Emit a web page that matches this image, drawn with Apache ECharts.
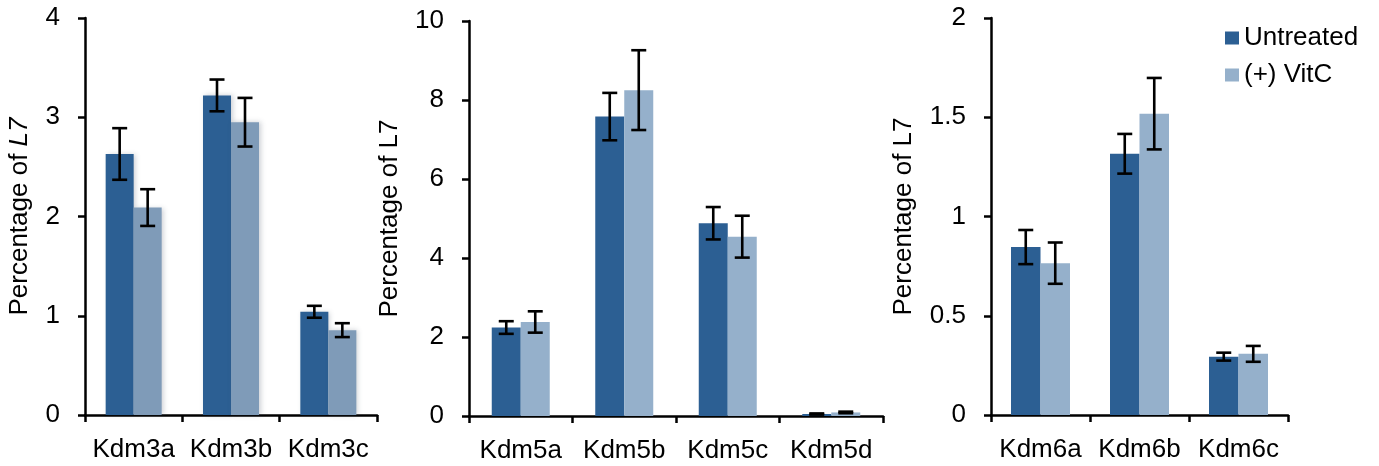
<!DOCTYPE html>
<html>
<head>
<meta charset="utf-8">
<script src="https://cdn.jsdelivr.net/npm/echarts@6/dist/echarts.min.js"></script>
<style>
html,body{margin:0;padding:0;background:#fff;}
#c{width:1379px;height:466px;}
</style>
</head>
<body>
<div id="c"></div>
<script>
// ---- data ----
const seriesNames = ['Untreated', '(+) VitC'];

const cats1 = ['Kdm3a', 'Kdm3b', 'Kdm3c'];
const untreated1 = [2.63, 3.22, 1.04];
const untreated1Err = [0.26, 0.16, 0.06];
const vitc1 = [2.09, 2.95, 0.855];
const vitc1Err = [0.185, 0.245, 0.07];

const cats2 = ['Kdm5a', 'Kdm5b', 'Kdm5c', 'Kdm5d'];
const untreated2 = [2.24, 7.58, 4.88, 0.05];
const untreated2Err = [0.16, 0.6, 0.41, 0.015];
const vitc2 = [2.38, 8.25, 4.54, 0.09];
const vitc2Err = [0.27, 1.01, 0.53, 0.02];

const cats3 = ['Kdm6a', 'Kdm6b', 'Kdm6c'];
const untreated3 = [0.846, 1.316, 0.294];
const untreated3Err = [0.086, 0.10, 0.02];
const vitc3 = [0.765, 1.518, 0.308];
const vitc3Err = [0.104, 0.18, 0.04];

const yTicks1 = {min: 0, max: 4, interval: 1};
const yTicks2 = {min: 0, max: 10, interval: 2};
const yTicks3 = {min: 0, max: 2, interval: 0.5};

// ---- styles ----
const FONT = 'Liberation Sans, Arial, Helvetica, sans-serif';
const FS = 26;
const DARK = '#2c5f93';
const LIGHT = '#95b0cb';
const LIGHT1 = '#7f9bb8';
const AX = {color: '#000', width: 2.5};

const panels = [
  {cats: cats1, u: untreated1, ue: untreated1Err, v: vitc1, ve: vitc1Err, y: yTicks1,
   grid: {left: 85, top: 18, width: 292, height: 397}, bw: 28, gap: 52,
   name: 'Percentage of {i|L7}', light: LIGHT1, shadow: true},
  {cats: cats2, u: untreated2, ue: untreated2Err, v: vitc2, ve: vitc2Err, y: yTicks2,
   grid: {left: 469, top: 21, width: 414, height: 395}, bw: 29, gap: 66,
   name: 'Percentage of L7', light: LIGHT, shadow: false},
  {cats: cats3, u: untreated3, ue: untreated3Err, v: vitc3, ve: vitc3Err, y: yTicks3,
   grid: {left: 991, top: 18, width: 297, height: 397}, bw: 29.5, gap: 74,
   name: 'Percentage of L7', light: LIGHT, shadow: false}
];

const grid = [], xAxis = [], yAxis = [], series = [];

function errSeries(idx, vals, errs, offsetSign, bw) {
  return {
    type: 'custom',
    xAxisIndex: idx, yAxisIndex: idx,
    z: 10, silent: true,
    encode: {x: 0, y: 1},
    data: vals.map((v, i) => [i, v, errs[i]]),
    renderItem: function (params, api) {
      const x = api.value(0), y = api.value(1), e = api.value(2);
      const c = api.coord([x, y]);
      const t = api.coord([x, y + e]);
      const b = api.coord([x, y - e]);
      const cx = c[0] + offsetSign * bw / 2;
      const hw = 7.5;
      const st = {stroke: '#000', lineWidth: 2.6};
      return {
        type: 'group',
        children: [
          {type: 'line', shape: {x1: cx, y1: t[1], x2: cx, y2: b[1]}, style: st},
          {type: 'line', shape: {x1: cx - hw, y1: t[1], x2: cx + hw, y2: t[1]}, style: st},
          {type: 'line', shape: {x1: cx - hw, y1: b[1], x2: cx + hw, y2: b[1]}, style: st}
        ]
      };
    }
  };
}

panels.forEach((p, idx) => {
  grid.push(Object.assign({containLabel: false}, p.grid));
  xAxis.push({
    type: 'category', gridIndex: idx, data: p.cats,
    axisLine: {show: true, lineStyle: AX},
    axisTick: {show: true, length: 7, alignWithLabel: false, lineStyle: AX},
    axisLabel: {color: '#000', fontFamily: FONT, fontSize: FS, margin: 22, interval: 0},
    splitLine: {show: false}
  });
  yAxis.push({
    type: 'value', gridIndex: idx,
    min: p.y.min, max: p.y.max, interval: p.y.interval,
    name: p.name, nameLocation: 'middle', nameGap: p.gap,
    nameTextStyle: {color: '#000', fontFamily: FONT, fontSize: FS,
      rich: {i: {fontStyle: 'italic', color: '#000', fontFamily: FONT, fontSize: FS}}},
    axisLine: {show: true, lineStyle: AX},
    axisTick: {show: true, length: 7, lineStyle: AX},
    axisLabel: {color: '#000', fontFamily: FONT, fontSize: FS, margin: 25},
    splitLine: {show: false}
  });
  const shadow = p.shadow ? {shadowColor: 'rgba(60,70,90,0.25)', shadowBlur: 5, shadowOffsetX: 2} : {};
  series.push({
    type: 'bar', name: seriesNames[0], xAxisIndex: idx, yAxisIndex: idx,
    data: p.u, barWidth: p.bw, barGap: '0%',
    itemStyle: Object.assign({color: DARK}, shadow)
  });
  series.push({
    type: 'bar', name: seriesNames[1], xAxisIndex: idx, yAxisIndex: idx,
    data: p.v, barWidth: p.bw, barGap: '0%',
    itemStyle: Object.assign({color: p.light}, shadow)
  });
  series.push(errSeries(idx, p.u, p.ue, -1, p.bw));
  series.push(errSeries(idx, p.v, p.ve, 1, p.bw));
});

const option = {
  backgroundColor: '#fff',
  animation: false,
  legend: {
    orient: 'vertical', left: 1225, top: 25, padding: 0,
    itemWidth: 14, itemHeight: 13, itemGap: 11,
    textStyle: {color: '#000', fontFamily: FONT, fontSize: FS},
    data: [
      {name: seriesNames[0], icon: 'rect', itemStyle: {color: DARK}},
      {name: seriesNames[1], icon: 'rect', itemStyle: {color: LIGHT}}
    ]
  },
  grid: grid, xAxis: xAxis, yAxis: yAxis, series: series
};

const chart = echarts.init(document.getElementById('c'), null, {renderer: 'canvas'});
chart.setOption(option);
</script>
</body>
</html>
